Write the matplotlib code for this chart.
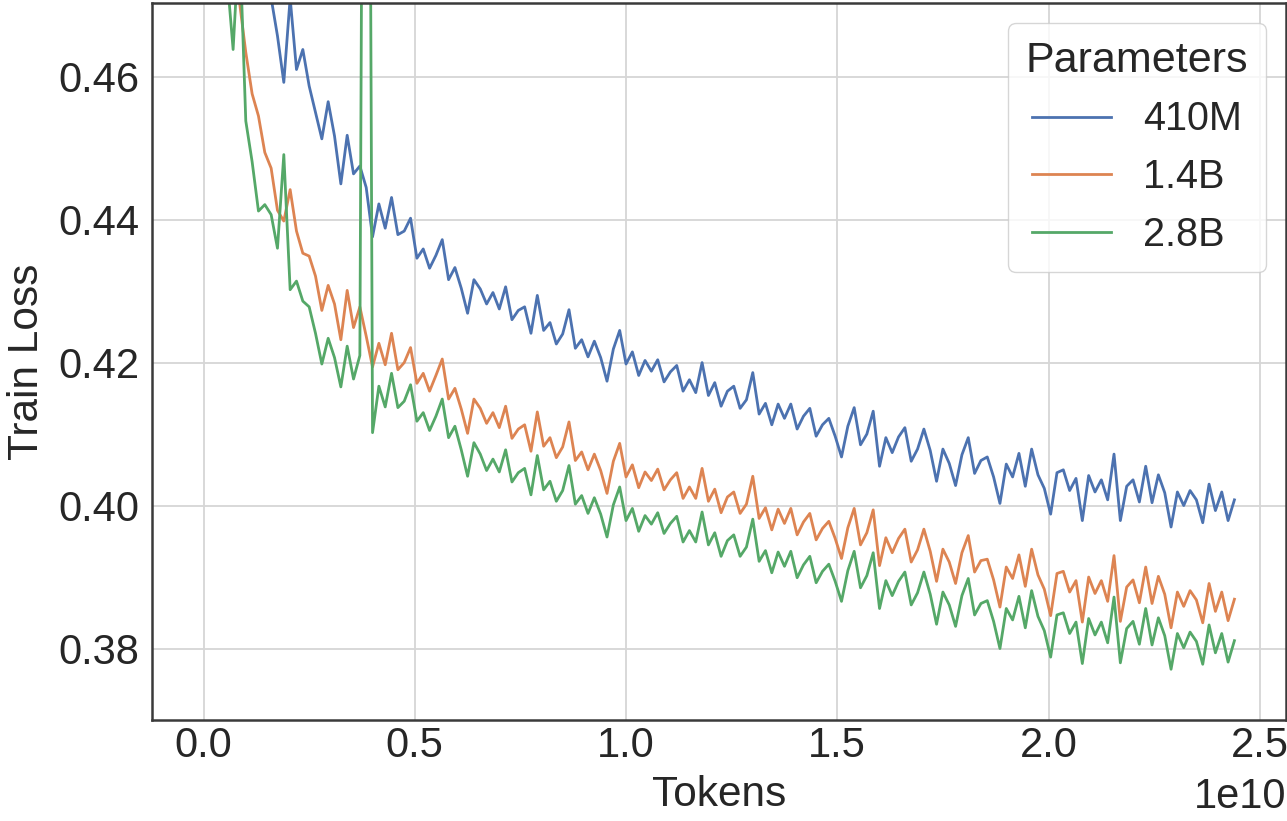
import numpy as np
import matplotlib
matplotlib.use("Agg")
import matplotlib.pyplot as plt
from matplotlib.ticker import FormatStrFormatter

# Training-loss log: one record every 1.5e8 tokens, the first at 4e8 tokens
first_record = 4.0e8
log_interval = 1.5e8
n_records = 161
tokens = first_record + log_interval * np.arange(n_records)

loss_410m = [
    0.5400, 0.5300, 0.5200, 0.5100, 0.5005, 0.4914, 0.4858, 0.4776, 0.4710, 0.4657,
    0.4592, 0.4710, 0.4610, 0.4638, 0.4587, 0.4550, 0.4513, 0.4565, 0.4517, 0.4450,
    0.4518, 0.4464, 0.4475, 0.4445, 0.4376, 0.4422, 0.4388, 0.4431, 0.4379, 0.4384,
    0.4402, 0.4346, 0.4359, 0.4332, 0.4350, 0.4372, 0.4316, 0.4333, 0.4304, 0.4269,
    0.4316, 0.4303, 0.4282, 0.4298, 0.4275, 0.4306, 0.4260, 0.4273, 0.4278, 0.4241,
    0.4294, 0.4245, 0.4256, 0.4226, 0.4240, 0.4274, 0.4220, 0.4232, 0.4208, 0.4230,
    0.4207, 0.4174, 0.4219, 0.4245, 0.4198, 0.4215, 0.4182, 0.4203, 0.4188, 0.4204,
    0.4173, 0.4187, 0.4196, 0.4160, 0.4176, 0.4158, 0.4200, 0.4154, 0.4172, 0.4139,
    0.4160, 0.4167, 0.4136, 0.4148, 0.4186, 0.4128, 0.4143, 0.4113, 0.4142, 0.4122,
    0.4142, 0.4107, 0.4125, 0.4136, 0.4097, 0.4113, 0.4122, 0.4097, 0.4068, 0.4111,
    0.4137, 0.4085, 0.4100, 0.4132, 0.4055, 0.4095, 0.4074, 0.4096, 0.4109, 0.4062,
    0.4079, 0.4107, 0.4077, 0.4034, 0.4079, 0.4059, 0.4028, 0.4071, 0.4095, 0.4045,
    0.4063, 0.4068, 0.4040, 0.4003, 0.4058, 0.4040, 0.4073, 0.4027, 0.4079, 0.4043,
    0.4024, 0.3988, 0.4046, 0.4050, 0.4021, 0.4038, 0.3979, 0.4042, 0.4019, 0.4036,
    0.4008, 0.4072, 0.3979, 0.4027, 0.4036, 0.4005, 0.4055, 0.4004, 0.4043, 0.4018,
    0.3970, 0.4019, 0.4000, 0.4021, 0.4008, 0.3976, 0.4030, 0.3993, 0.4019, 0.3979,
    0.4008,
]

loss_1_4b = [
    0.5000, 0.4900, 0.4800, 0.4705, 0.4634, 0.4576, 0.4545, 0.4494, 0.4472, 0.4413,
    0.4398, 0.4442, 0.4384, 0.4353, 0.4349, 0.4321, 0.4273, 0.4308, 0.4282, 0.4232,
    0.4301, 0.4249, 0.4278, 0.4237, 0.4194, 0.4227, 0.4197, 0.4241, 0.4190, 0.4200,
    0.4221, 0.4171, 0.4185, 0.4160, 0.4182, 0.4205, 0.4149, 0.4164, 0.4135, 0.4101,
    0.4149, 0.4136, 0.4115, 0.4130, 0.4109, 0.4139, 0.4094, 0.4107, 0.4113, 0.4076,
    0.4131, 0.4083, 0.4095, 0.4067, 0.4082, 0.4117, 0.4063, 0.4075, 0.4050, 0.4072,
    0.4049, 0.4017, 0.4062, 0.4087, 0.4040, 0.4057, 0.4025, 0.4047, 0.4035, 0.4051,
    0.4022, 0.4036, 0.4046, 0.4010, 0.4026, 0.4010, 0.4052, 0.4006, 0.4023, 0.3990,
    0.4012, 0.4019, 0.3989, 0.4002, 0.4041, 0.3982, 0.3997, 0.3966, 0.3995, 0.3975,
    0.3996, 0.3959, 0.3977, 0.3989, 0.3952, 0.3968, 0.3978, 0.3954, 0.3926, 0.3969,
    0.3996, 0.3945, 0.3962, 0.3994, 0.3916, 0.3955, 0.3934, 0.3954, 0.3967, 0.3921,
    0.3938, 0.3967, 0.3936, 0.3894, 0.3939, 0.3921, 0.3891, 0.3934, 0.3958, 0.3907,
    0.3923, 0.3925, 0.3896, 0.3858, 0.3914, 0.3898, 0.3931, 0.3887, 0.3939, 0.3903,
    0.3883, 0.3846, 0.3905, 0.3908, 0.3879, 0.3895, 0.3837, 0.3900, 0.3877, 0.3895,
    0.3866, 0.3930, 0.3838, 0.3886, 0.3896, 0.3864, 0.3914, 0.3863, 0.3901, 0.3876,
    0.3829, 0.3879, 0.3859, 0.3881, 0.3868, 0.3836, 0.3891, 0.3852, 0.3879, 0.3839,
    0.3869,
]

loss_2_8b = [
    0.4900, 0.4745, 0.4638, 0.4800, 0.4538, 0.4481, 0.4412, 0.4421, 0.4407, 0.4360,
    0.4491, 0.4302, 0.4314, 0.4286, 0.4278, 0.4241, 0.4198, 0.4234, 0.4207, 0.4166,
    0.4223, 0.4177, 0.4210, 0.6200, 0.4102, 0.4167, 0.4138, 0.4185, 0.4137, 0.4146,
    0.4169, 0.4118, 0.4130, 0.4105, 0.4125, 0.4149, 0.4095, 0.4111, 0.4078, 0.4041,
    0.4088, 0.4072, 0.4049, 0.4065, 0.4047, 0.4078, 0.4033, 0.4046, 0.4052, 0.4015,
    0.4070, 0.4022, 0.4034, 0.4006, 0.4021, 0.4056, 0.4002, 0.4014, 0.3989, 0.4011,
    0.3988, 0.3956, 0.4001, 0.4026, 0.3979, 0.3996, 0.3964, 0.3986, 0.3974, 0.3990,
    0.3961, 0.3975, 0.3985, 0.3949, 0.3965, 0.3949, 0.3991, 0.3945, 0.3962, 0.3929,
    0.3951, 0.3959, 0.3929, 0.3942, 0.3981, 0.3922, 0.3937, 0.3906, 0.3935, 0.3915,
    0.3936, 0.3899, 0.3917, 0.3929, 0.3892, 0.3908, 0.3918, 0.3894, 0.3866, 0.3909,
    0.3936, 0.3885, 0.3902, 0.3934, 0.3856, 0.3895, 0.3874, 0.3894, 0.3907, 0.3861,
    0.3878, 0.3907, 0.3876, 0.3834, 0.3879, 0.3861, 0.3831, 0.3874, 0.3898, 0.3847,
    0.3863, 0.3867, 0.3838, 0.3800, 0.3856, 0.3840, 0.3873, 0.3829, 0.3881, 0.3845,
    0.3825, 0.3788, 0.3847, 0.3850, 0.3821, 0.3837, 0.3779, 0.3842, 0.3819, 0.3837,
    0.3808, 0.3872, 0.3780, 0.3828, 0.3838, 0.3806, 0.3856, 0.3805, 0.3843, 0.3818,
    0.3771, 0.3821, 0.3801, 0.3823, 0.3810, 0.3778, 0.3833, 0.3794, 0.3821, 0.3781,
    0.3811,
]

model_sizes = ["410M", "1.4B", "2.8B"]
series = [loss_410m, loss_1_4b, loss_2_8b]
colors = ["#4C72B0", "#DD8452", "#55A868"]

x_ticks = [0.0, 0.5e10, 1.0e10, 1.5e10, 2.0e10, 2.5e10]
y_ticks = [0.38, 0.40, 0.42, 0.44, 0.46]

plt.rcParams["font.family"] = ["Liberation Sans", "DejaVu Sans"]
plt.rcParams["text.color"] = "#262626"
plt.rcParams["axes.labelcolor"] = "#262626"
plt.rcParams["xtick.color"] = "#262626"
plt.rcParams["ytick.color"] = "#262626"

fig = plt.figure(figsize=(12.87, 8.21), dpi=100)
ax = fig.add_axes([0.1181, 0.1230, 0.8811, 0.8733])

for values, label, color in zip(series, model_sizes, colors):
    ax.plot(tokens, values, color=color, lw=2.0, label=label)

ax.set_xlim(-0.122e10, 2.562e10)
ax.set_ylim(0.37, 0.4703)
ax.set_xticks(x_ticks)
ax.set_yticks(y_ticks)
ax.yaxis.set_major_formatter(FormatStrFormatter("%.2f"))

ax.grid(True, color="#d6d6d6", lw=1.3)
ax.set_axisbelow(True)
for side in ["left", "bottom", "top", "right"]:
    ax.spines[side].set_color("#3a3a3a")
    ax.spines[side].set_linewidth(1.8)

ax.tick_params(axis="both", length=0, labelsize=30)
ax.tick_params(axis="x", pad=4)
ax.tick_params(axis="y", pad=9)

# scale factor of the token axis, written under its right end
ax.xaxis.get_offset_text().set_visible(False)
ax.text(1.0, -0.123, "1e10", transform=ax.transAxes, ha="right",
        va="baseline", fontsize=30, color="#262626")

ax.set_xlabel("Tokens", fontsize=30.5, labelpad=7)
ax.set_ylabel("Train Loss", fontsize=30.5, labelpad=8)

leg = ax.legend(title="Parameters", loc="upper right", fontsize=28.5,
                title_fontsize=31, frameon=True, fancybox=True,
                labelspacing=0.5, borderaxespad=0.5, borderpad=0.45)
leg.get_frame().set_edgecolor("#cccccc")
leg.get_frame().set_linewidth(1.0)

fig.savefig("out.png", dpi=100)
